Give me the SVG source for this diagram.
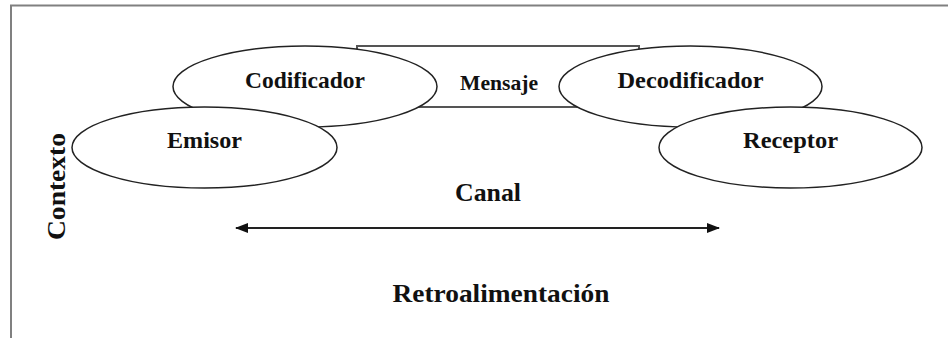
<svg xmlns="http://www.w3.org/2000/svg" width="948" height="338" viewBox="0 0 948 338">
<defs>
<style>
.t{font-family:"Liberation Serif","Times New Roman",serif;font-weight:bold;fill:#111;text-anchor:middle}
.e{fill:#fff;stroke:#222;stroke-width:1.5}
</style>
<marker id="ah" viewBox="0 0 13 10" refX="12" refY="5" markerWidth="13" markerHeight="10" orient="auto-start-reverse" markerUnits="userSpaceOnUse">
<path d="M0,0 L13,5 L0,10 z" fill="#111"/>
</marker>
</defs>
<rect width="948" height="338" fill="#fff"/>
<path d="M11,340 L11,5.5 L950,5.5" fill="none" stroke="#808080" stroke-width="2"/>
<g id="mensaje">
<rect x="357" y="46" width="282" height="61" fill="#fff" stroke="#555" stroke-width="2"/>
<text class="t" x="499" y="90" font-size="21" textLength="78" lengthAdjust="spacingAndGlyphs">Mensaje</text>
</g>
<g id="codificador">
<ellipse class="e" cx="305" cy="86.5" rx="132" ry="40.5"/>
<text class="t" x="305" y="88" font-size="23.5" textLength="120" lengthAdjust="spacingAndGlyphs">Codificador</text>
</g>
<g id="emisor">
<ellipse class="e" cx="204.5" cy="147.5" rx="132.5" ry="40.5"/>
<text class="t" x="204.5" y="148" font-size="23.5" textLength="75" lengthAdjust="spacingAndGlyphs">Emisor</text>
</g>
<g id="decodificador">
<ellipse class="e" cx="690.5" cy="86.5" rx="131.5" ry="40.5"/>
<text class="t" x="690.5" y="88" font-size="23.5" textLength="146" lengthAdjust="spacingAndGlyphs">Decodificador</text>
</g>
<g id="receptor">
<ellipse class="e" cx="790.5" cy="147.5" rx="131.5" ry="40.5"/>
<text class="t" x="790.5" y="148" font-size="23.5" textLength="95" lengthAdjust="spacingAndGlyphs">Receptor</text>
</g>
<g id="canal">
<text class="t" x="488" y="201" font-size="26" textLength="66" lengthAdjust="spacingAndGlyphs">Canal</text>
</g>
<g id="retroalimentacion">
<text class="t" x="501" y="302" font-size="26" textLength="217" lengthAdjust="spacingAndGlyphs">Retroalimentación</text>
</g>
<g id="contexto">
<text class="t" transform="translate(65,186.5) rotate(-90)" x="0" y="0" font-size="26" textLength="107" lengthAdjust="spacingAndGlyphs">Contexto</text>
</g>
<g id="connectors">
<line x1="236" y1="228" x2="719" y2="228" stroke="#222" stroke-width="2" marker-start="url(#ah)" marker-end="url(#ah)"/>
</g>
</svg>
